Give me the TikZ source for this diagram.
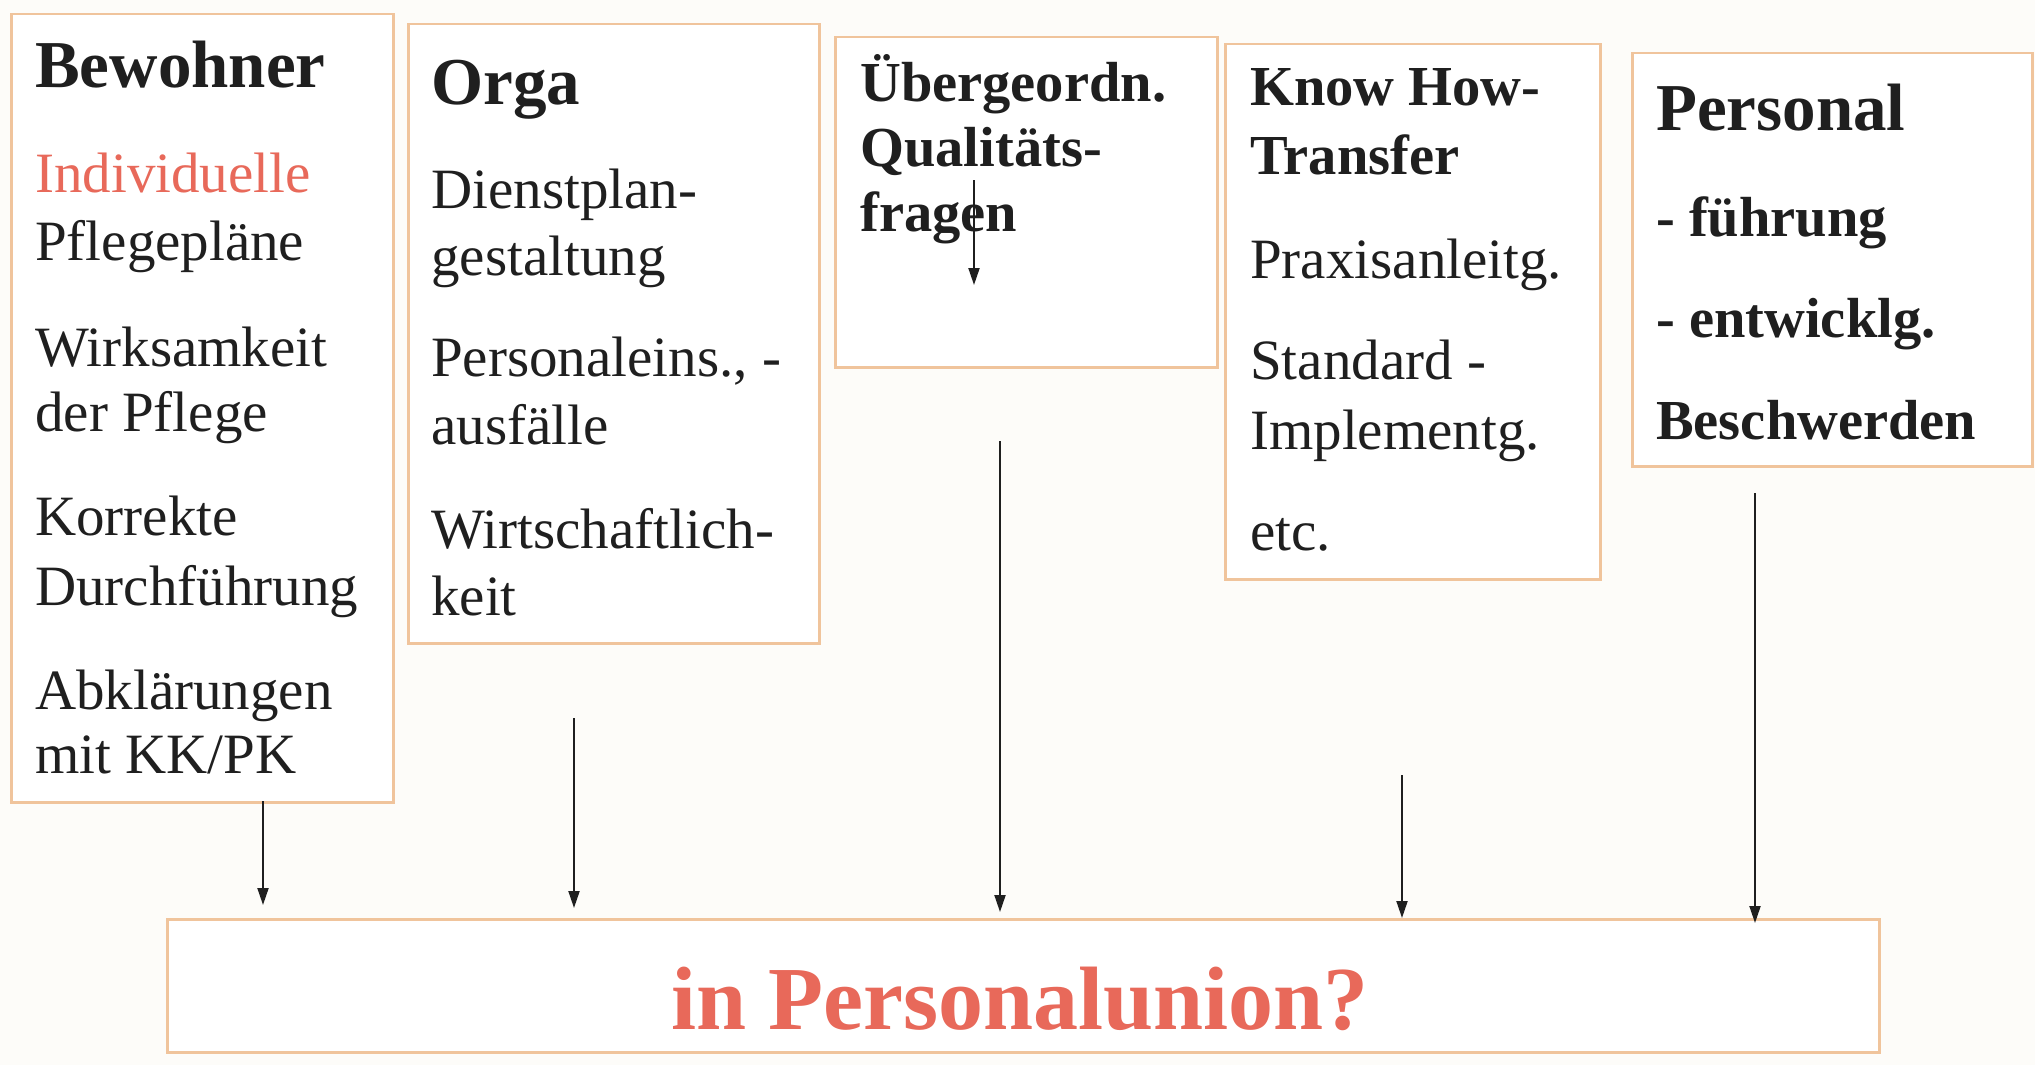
\documentclass[tikz,border=0pt]{standalone}
\usepackage{fontspec}
\setmainfont{Liberation Serif}
\usetikzlibrary{arrows.meta}
\definecolor{ink}{HTML}{1F1F1F}
\definecolor{frame}{HTML}{F0C49C}
\definecolor{accent}{HTML}{E8695A}
\definecolor{paper}{HTML}{FDFCF9}
\begin{document}
\begin{tikzpicture}[x=1pt,y=-1pt,
  box/.style={draw=frame, line width=2.5pt, fill=white, inner sep=0pt, anchor=north west},
  body/.style={anchor=base west, inner sep=0pt, text=ink, font=\fontsize{57}{60}\selectfont},
  head/.style={body, font=\fontsize{67}{70}\selectfont\bfseries},
  subhead/.style={body, font=\fontsize{56.5}{60}\selectfont\bfseries},
  arr/.style={-{Triangle[length=17pt,width=11pt]}, line width=2pt, draw=ink}]

% page
\fill[paper] (0,0) rectangle (2035,1065);
\useasboundingbox (0,0) rectangle (2035,1065);

% frames
\node[box, minimum width=382pt, minimum height=788pt] (b1) at (10,13) {};
\node[box, minimum width=411pt, minimum height=619pt] (b2) at (407,23) {};
\node[box, minimum width=382pt, minimum height=330pt] (b3) at (834,36) {};
\node[box, minimum width=375pt, minimum height=535pt] (b4) at (1224,43) {};
\node[box, minimum width=400pt, minimum height=413pt] (b5) at (1631,52) {};
\node[box, minimum width=1712pt, minimum height=133pt] (bot) at (166,918) {};

% Bewohner
\node[head] (t1h) at (35,88) {Bewohner};
\node[body, text=accent] (t1a) at (35,192) {Individuelle};
\node[body] (t1b) at (35,260) {Pflegepläne};
\node[body] (t1c) at (35,366) {Wirksamkeit};
\node[body] (t1d) at (35,431) {der Pflege};
\node[body] (t1e) at (35,535) {Korrekte};
\node[body] (t1f) at (35,605) {Durchführung};
\node[body] (t1g) at (35,709) {Abklärungen};
\node[body] (t1i) at (35,773) {mit KK/PK};

% Orga
\node[head] (t2h) at (431,104) {Orga};
\node[body] (t2a) at (431,208) {Dienstplan-};
\node[body] (t2b) at (431,275) {gestaltung};
\node[body] (t2c) at (431,376) {Personaleins., -};
\node[body] (t2d) at (431,444) {ausfälle};
\node[body] (t2e) at (431,548) {Wirtschaftlich-};
\node[body] (t2f) at (431,615) {keit};

% Qualitaet
\node[subhead] (t3a) at (860,101) {Übergeordn.};
\node[subhead] (t3b) at (860,166) {Qualitäts-};
\node[subhead] (t3c) at (860,231) {fragen};

% Know-how
\node[subhead] (t4a) at (1250,106) {Know How-};
\node[subhead] (t4b) at (1250,174) {Transfer};
\node[body] (t4c) at (1250,278) {Praxisanleitg.};
\node[body] (t4d) at (1250,379) {Standard -};
\node[body] (t4e) at (1250,449) {Implementg.};
\node[body] (t4f) at (1250,550) {etc.};

% Personal
\node[head] (t5h) at (1656,130) {Personal};
\node[subhead] (t5a) at (1656,236) {- führung};
\node[subhead] (t5b) at (1656,337) {- entwicklg.};
\node[subhead] (t5c) at (1656,439) {Beschwerden};

% result
\node[anchor=base, inner sep=0pt, text=accent, font=\fontsize{90}{94}\selectfont\bfseries] (res) at (1020,1029) {in Personalunion?};

% connectors
\coordinate (s1) at (263,801);
\coordinate (s2) at (574,718);
\coordinate (s3) at (1000,441);
\coordinate (s4) at (1402,775);
\coordinate (s5) at (1755,493);
\coordinate (e1) at (263,905);
\coordinate (e2) at (574,908);
\coordinate (e3) at (1000,912);
\coordinate (e4) at (1402,918);
\coordinate (e5) at (1755,923);
\draw[arr] (s1) -- (e1);
\draw[arr] (s2) -- (e2);
\draw[arr] (s3) -- (e3);
\draw[arr] (s4) -- (e4);
\draw[arr] (s5) -- (e5);

\coordinate (s6) at (974,180);
\coordinate (e6) at (974,285);
\draw[arr] (s6) -- (e6);
\end{tikzpicture}
\end{document}
